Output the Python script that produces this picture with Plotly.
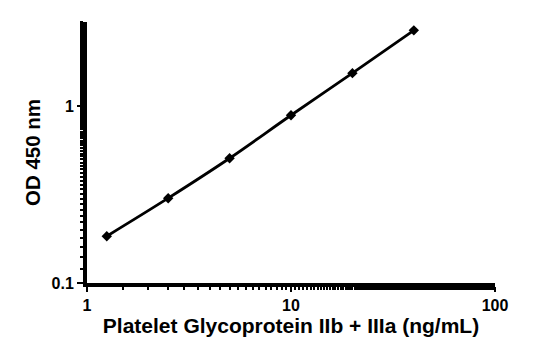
import plotly.graph_objects as go

conc = [1.25, 2.5, 5, 10, 20, 40]
od = [0.184, 0.302, 0.508, 0.89, 1.54, 2.69]

x_ticks = [1, 10, 100]
x_tick_labels = ["1", "10", "100"]
y_ticks = [0.1, 1]
y_tick_labels = ["0.1", "1"]

fig = go.Figure()
fig.add_trace(go.Scatter(
    x=conc, y=od, mode="lines+markers",
    line=dict(color="black", width=2.8, shape="spline"),
    marker=dict(symbol="diamond", size=8, color="black"),
    showlegend=False, cliponaxis=False,
))

fam = "Liberation Sans, Arial, sans-serif"
fig.update_layout(
    width=560, height=341,
    margin=dict(l=87, r=65, t=22, b=58),
    plot_bgcolor="white", paper_bgcolor="white",
    font=dict(family=fam, color="black", size=16),
)
fig.update_xaxes(
    type="log", range=[0, 2], automargin=False,
    tickvals=x_ticks, ticktext=["<b>%s</b>" % t for t in x_tick_labels],
    tickfont=dict(family=fam, size=16, color="black"),
    showline=True, linecolor="black", linewidth=4,
    ticks="outside", ticklen=5, tickwidth=2, tickcolor="black",
    minor=dict(ticks="outside", ticklen=3, tickwidth=2, tickcolor="black", showgrid=False),
    showgrid=False, zeroline=False,
    title=dict(text="<b>Platelet Glycoprotein IIb + IIIa (ng/mL)</b>",
               font=dict(family=fam, size=21, color="black"), standoff=2),
)
fig.update_yaxes(
    type="log", range=[-1, 0.477], automargin=False,
    tickvals=y_ticks, ticktext=["<b>%s</b>" % t for t in y_tick_labels],
    tickfont=dict(family=fam, size=16, color="black"),
    showline=True, linecolor="black", linewidth=4,
    ticks="outside", ticklen=6, tickwidth=2, tickcolor="black",
    minor=dict(ticks="outside", ticklen=3, tickwidth=2, tickcolor="black", showgrid=False),
    showgrid=False, zeroline=False,
    title=dict(text="<b>OD 450 nm</b>", font=dict(family=fam, size=20.5, color="black"), standoff=6),
)
fig.write_html("out.html")
